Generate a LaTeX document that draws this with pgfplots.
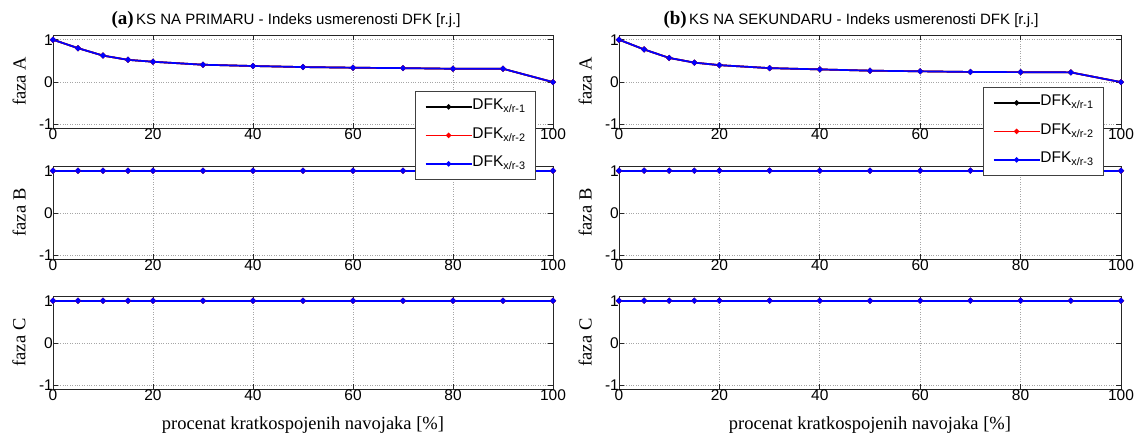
\documentclass[border=0pt]{standalone}
\usepackage{fontspec}
\setmainfont{Liberation Serif}
\setsansfont{Liberation Sans}
\usepackage{pgfplots}
\usepackage{pgfplotstable}
\pgfplotsset{compat=1.18}

\pgfplotstableread{
x    A      B  C
0    1.000  1  1
5    0.800  1  1
10   0.625  1  1
15   0.525  1  1
20   0.480  1  1
30   0.410  1  1
40   0.380  1  1
50   0.355  1  1
60   0.340  1  1
70   0.330  1  1
80   0.315  1  1
90   0.315  1  1
100  0.000  1  1
}\leftdata

\pgfplotstableread{
x    A      B  C
0    1.000  1  1
5    0.770  1  1
10   0.570  1  1
15   0.460  1  1
20   0.400  1  1
30   0.330  1  1
40   0.300  1  1
50   0.270  1  1
60   0.255  1  1
70   0.240  1  1
80   0.235  1  1
90   0.230  1  1
100  0.000  1  1
}\rightdata

\pgfplotsset{
  panel/.style={
    scale only axis, height=93pt,
    xmin=0, xmax=100, ymin=-1.08, ymax=1.11,
    xtick={0,20,40,60,80,100}, ytick={-1,0,1},
    tick pos=both, tick align=inside, major tick length=5pt,
    grid=major, grid style={dotted, line width=0.7pt, black!35},
    axis line style={line width=0.8pt, black!85},
    every tick/.style={line width=0.8pt, black!85},
    /pgf/number format/assume math mode=true,
    ticklabel style={font=\sffamily\fontsize{15.5}{15.5}\selectfont, inner sep=0pt},
    every axis y label/.style={at={([xshift=-27.5pt]axis description cs:0,0.5)}, rotate=90, anchor=base, font=\rmfamily\fontsize{18.5}{18.5}\selectfont},
    every axis x label/.style={at={([yshift=-40pt]axis description cs:0.5,0)}, anchor=base, font=\rmfamily\fontsize{18.5}{18.5}\selectfont},
    legend cell align=left,
    legend style={draw=black!75, line width=0.8pt, fill=white, anchor=north east,
      inner xsep=10pt, inner ysep=7.5pt, row sep=12.5pt,
      font=\sffamily\fontsize{15.5}{15.5}\selectfont,
      nodes={inner sep=0pt, text height=10.8pt, text depth=5.2pt},
      /tikz/every even column/.append style={column sep=5.5pt}},
  },
  limg/.style={legend image code/.code={\draw[mark repeat=2,mark phase=2,##1,line width=1.4pt] plot coordinates {(0pt,0pt)(23pt,0pt)(46pt,0pt)};}},
  s1/.style={black, line width=1.7pt, mark=*, mark size=1.9pt, mark options={solid, fill=black}, limg},
  s2/.style={red, line width=1.7pt, mark=*, mark size=1.9pt, mark options={solid, fill=red}, limg},
  s3/.style={blue, line width=1.7pt, mark=*, mark size=1.9pt, mark options={solid, fill=blue}, limg},
}

\begin{document}
\begin{tikzpicture}
% ---------- left column ----------
\begin{axis}[panel, width=500pt, at={(53pt,-259pt)}, anchor=south west, ylabel={faza B}]
  \addplot[s1] table[x=x,y=B] {\leftdata};
  \addplot[s2] table[x=x,y=B] {\leftdata};
  \addplot[s3] table[x=x,y=B] {\leftdata};
\end{axis}
\begin{axis}[panel, width=500pt, at={(53pt,-389pt)}, anchor=south west, ylabel={faza C},
  xlabel={procenat kratkospojenih navojaka [\%]}]
  \addplot[s1] table[x=x,y=C] {\leftdata};
  \addplot[s2] table[x=x,y=C] {\leftdata};
  \addplot[s3] table[x=x,y=C] {\leftdata};
\end{axis}
\begin{axis}[panel, width=500pt, at={(53pt,-128pt)}, anchor=south west, ylabel={faza A},
  legend style={at={(axis description cs:0.966,0.398)}}]
  \addplot[s1] table[x=x,y=A] {\leftdata};
  \addplot[s2] table[x=x,y=A] {\leftdata};
  \addplot[s3] table[x=x,y=A] {\leftdata};
  \addlegendentry{DFK\textsubscript{x/r-1}}
  \addlegendentry{DFK\textsubscript{x/r-2}}
  \addlegendentry{DFK\textsubscript{x/r-3}}
\end{axis}
% ---------- right column ----------
\begin{axis}[panel, width=502pt, at={(619pt,-259pt)}, anchor=south west, ylabel={faza B}]
  \addplot[s1] table[x=x,y=B] {\rightdata};
  \addplot[s2] table[x=x,y=B] {\rightdata};
  \addplot[s3] table[x=x,y=B] {\rightdata};
\end{axis}
\begin{axis}[panel, width=502pt, at={(619pt,-389pt)}, anchor=south west, ylabel={faza C},
  xlabel={procenat kratkospojenih navojaka [\%]}]
  \addplot[s1] table[x=x,y=C] {\rightdata};
  \addplot[s2] table[x=x,y=C] {\rightdata};
  \addplot[s3] table[x=x,y=C] {\rightdata};
\end{axis}
\begin{axis}[panel, width=502pt, at={(619pt,-128pt)}, anchor=south west, ylabel={faza A},
  legend style={at={(axis description cs:0.966,0.441)}}]
  \addplot[s1] table[x=x,y=A] {\rightdata};
  \addplot[s2] table[x=x,y=A] {\rightdata};
  \addplot[s3] table[x=x,y=A] {\rightdata};
  \addlegendentry{DFK\textsubscript{x/r-1}}
  \addlegendentry{DFK\textsubscript{x/r-2}}
  \addlegendentry{DFK\textsubscript{x/r-3}}
\end{axis}
% ---------- titles ----------
\node[anchor=base, inner sep=0pt] at (286pt,-24.3pt) {{\rmfamily\bfseries\fontsize{19}{19}\selectfont (a)} {\sffamily\fontsize{15}{15}\selectfont KS NA PRIMARU - Indeks usmerenosti DFK [r.j.]}};
\node[anchor=base, inner sep=0pt] at (851pt,-24.3pt) {{\rmfamily\bfseries\fontsize{19}{19}\selectfont (b)} {\sffamily\fontsize{15}{15}\selectfont KS NA SEKUNDARU - Indeks usmerenosti DFK [r.j.]}};
\pgfresetboundingbox
\useasboundingbox (0pt,0pt) rectangle (1136pt,-439pt);
\end{tikzpicture}
\end{document}
